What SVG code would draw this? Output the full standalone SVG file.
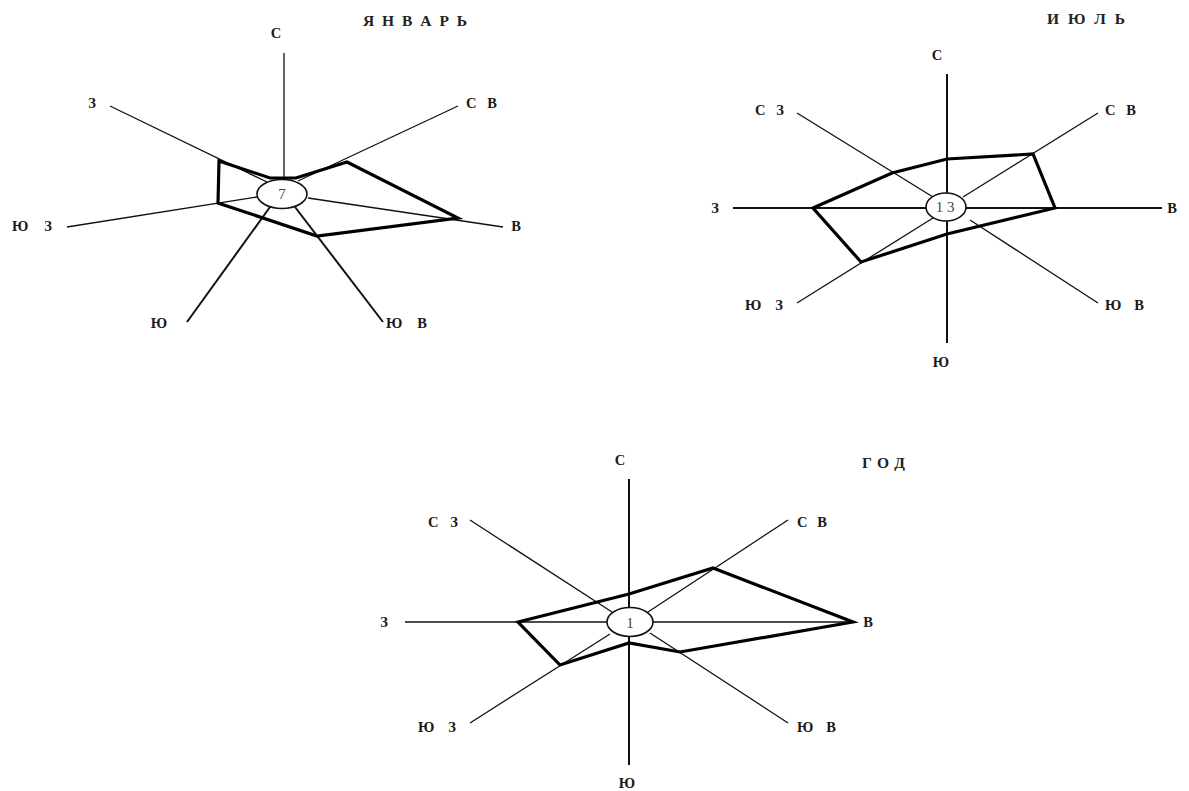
<svg xmlns="http://www.w3.org/2000/svg" width="1189" height="791" viewBox="0 0 1189 791">
<style>
.ax{stroke:#111;stroke-width:1.3;fill:none}
.axb{stroke:#111;stroke-width:2;fill:none}
.poly{stroke:#000;stroke-width:3.2;fill:none;stroke-linejoin:miter}
.ctr{fill:#fff;stroke:#111;stroke-width:1.6}
.lbl{font-family:"Liberation Serif","DejaVu Serif",serif;font-weight:bold;font-size:14.5px;fill:#1a1a1a}
.ttl{font-family:"Liberation Serif","DejaVu Serif",serif;font-weight:bold;font-size:15.5px;fill:#222}
.num{font-family:"Liberation Serif","DejaVu Serif",serif;font-size:15px;fill:#444;text-anchor:middle}
.m{text-anchor:middle}
</style>
<rect width="1189" height="791" fill="#fff"/>

<g id="connectors">
  <!-- January axes -->
  <line class="ax" x1="284" y1="53" x2="284" y2="180"/>
  <line class="ax" x1="110" y1="106" x2="267" y2="182"/>
  <line class="ax" x1="458" y1="106" x2="298" y2="181"/>
  <line class="ax" x1="67" y1="227" x2="257" y2="197"/>
  <line class="ax" x1="308" y1="198" x2="503" y2="227"/>
  <line class="axb" x1="187" y1="322" x2="270" y2="207"/>
  <line class="axb" x1="383" y1="322" x2="295" y2="207"/>
  <!-- July axes -->
  <line class="axb" x1="947" y1="74" x2="947" y2="343"/>
  <line class="axb" x1="733" y1="208" x2="1162" y2="208"/>
  <line class="ax" x1="797" y1="113" x2="933" y2="197"/>
  <line class="ax" x1="1098" y1="113" x2="963" y2="197"/>
  <line class="ax" x1="797" y1="303" x2="933" y2="218"/>
  <line class="ax" x1="1098" y1="303" x2="970" y2="220"/>
  <!-- Year axes -->
  <line class="axb" x1="629" y1="479" x2="629" y2="765"/>
  <line class="ax" x1="405" y1="622" x2="853" y2="622"/>
  <line class="ax" x1="470" y1="520" x2="612" y2="612"/>
  <line class="ax" x1="788" y1="520" x2="648" y2="612"/>
  <line class="ax" x1="470" y1="723" x2="610" y2="634"/>
  <line class="ax" x1="788" y1="723" x2="650" y2="633"/>
</g>

<g id="rose-january">
  <polygon class="poly" points="219,161 270,178 296,178 347,162 458,218 317,236 218,203"/>
  <g id="center-january">
    <ellipse class="ctr" cx="282" cy="194" rx="25" ry="14.5"/>
    <text class="num" x="282" y="199">7</text>
  </g>
  <text class="ttl" x="363" y="26" textLength="104">Я Н В А Р Ь</text>
  <text class="lbl m" x="276" y="38">С</text>
  <text class="lbl m" x="92" y="108">З</text>
  <text class="lbl" x="466" y="108" textLength="31">С В</text>
  <text class="lbl" x="12" y="231" textLength="40">Ю З</text>
  <text class="lbl m" x="516" y="231">В</text>
  <text class="lbl m" x="159" y="328">Ю</text>
  <text class="lbl" x="386" y="328" textLength="41">Ю В</text>
</g>

<g id="rose-july">
  <polygon class="poly" points="813,208 892,173 947,159 1033,154 1055,208 947,234 861,262"/>
  <g id="center-july">
    <ellipse class="ctr" cx="946" cy="207" rx="20" ry="14"/>
    <text class="num" x="945" y="212">1 3</text>
  </g>
  <text class="ttl" x="1047" y="24" textLength="78">И Ю Л Ь</text>
  <text class="lbl m" x="937" y="60">С</text>
  <text class="lbl" x="755" y="115" textLength="29">С З</text>
  <text class="lbl" x="1105" y="115" textLength="31">С В</text>
  <text class="lbl m" x="715" y="213">З</text>
  <text class="lbl m" x="1172" y="213">В</text>
  <text class="lbl" x="745" y="310" textLength="38">Ю З</text>
  <text class="lbl" x="1105" y="310" textLength="39">Ю В</text>
  <text class="lbl m" x="941" y="367">Ю</text>
</g>

<g id="rose-year">
  <polygon class="poly" points="518,622 629,594 713,568 853,622 680,652 629,643 560,665"/>
  <g id="center-year">
    <ellipse class="ctr" cx="630" cy="622" rx="23" ry="14.5"/>
    <text class="num" x="630" y="628">1</text>
  </g>
  <text class="ttl" x="862" y="468" textLength="43">Г О Д</text>
  <text class="lbl m" x="620" y="465">С</text>
  <text class="lbl" x="428" y="527" textLength="30">С З</text>
  <text class="lbl" x="797" y="527" textLength="30">С В</text>
  <text class="lbl m" x="384" y="627">З</text>
  <text class="lbl m" x="868" y="627">В</text>
  <text class="lbl" x="418" y="732" textLength="38">Ю З</text>
  <text class="lbl" x="797" y="732" textLength="39">Ю В</text>
  <text class="lbl m" x="627" y="788">Ю</text>
</g>
</svg>
